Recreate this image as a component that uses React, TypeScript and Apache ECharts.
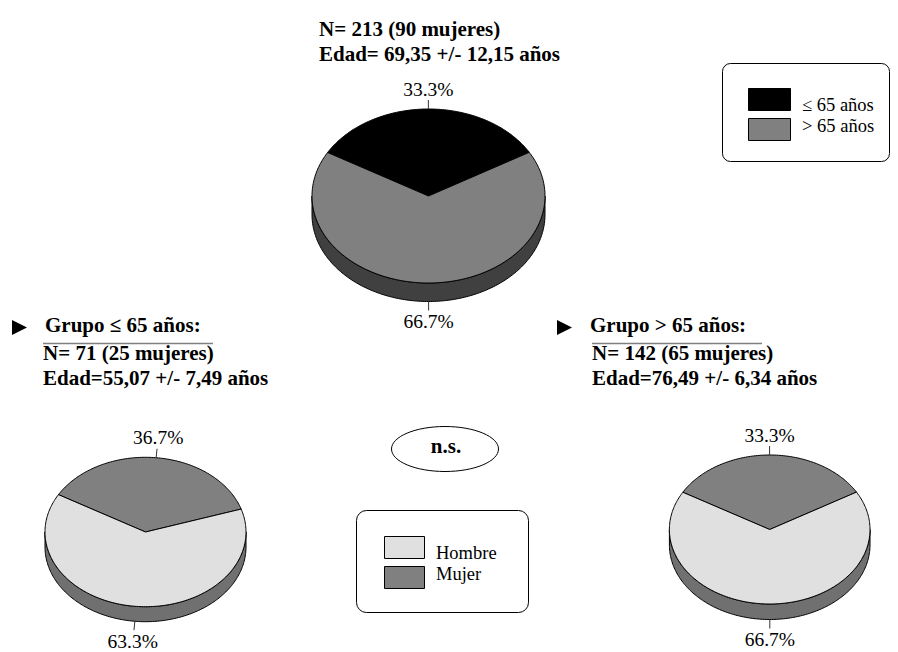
import React, { useEffect, useRef } from 'react';
import * as echarts from 'echarts';

// ---- data ----
const overallCategories = ['≤ 65 años', '> 65 años'];
const overallPct = [33.3, 66.7];
const sexCategories = ['Mujer', 'Hombre'];
const le65Pct = [36.7, 63.3];
const gt65Pct = [33.3, 66.7];
const sexLegendOrder = [1, 0];

const titleLines = ['N= 213 (90 mujeres)', 'Edad= 69,35 +/- 12,15 años'];
const leftHead = 'Grupo ≤ 65 años:';
const leftLines = ['N= 71 (25 mujeres)', 'Edad=55,07 +/- 7,49 años'];
const rightHead = 'Grupo > 65 años:';
const rightLines = ['N= 142 (65 mujeres)', 'Edad=76,49 +/- 6,34 años'];
const sigText = 'n.s.';

// ---- styles ----
const overallColors = ['#000000', '#808080'];
const overallSides = ['#000000', '#404040'];
const sexColors = ['#808080', '#e0e0e0'];
const sexSides = ['#404040', '#707070'];
const FONT = 'Liberation Serif, serif';

type Geo = { cx: number; cy: number; rx: number; ry: number; depth: number; start: number };

function pie3D(name: string, cats: string[], values: number[], colors: string[], sides: string[], g: Geo) {
  const total = values.reduce((a, b) => a + b, 0);
  const P = (deg: number, dy = 0) => {
    const r = (deg * Math.PI) / 180;
    return [g.cx + g.rx * Math.sin(r), g.cy - g.ry * Math.cos(r) + dy];
  };
  const arc = (lo: number, hi: number, dy = 0) => {
    const pts: number[][] = [];
    const n = Math.max(2, Math.ceil(hi - lo));
    for (let k = 0; k <= n; k++) pts.push(P(lo + ((hi - lo) * k) / n, dy));
    return pts;
  };
  return {
    type: 'custom',
    name,
    coordinateSystem: 'none',
    silent: true,
    data: values.map((v, i) => ({ value: v, name: cats[i] })),
    renderItem: (params: any, api: any) => {
      const i = params.dataIndex;
      const v = api.value(0);
      let before = 0;
      for (let k = 0; k < i; k++) before += values[k];
      const a0 = g.start + (before / total) * 360;
      const a1 = a0 + (v / total) * 360;
      const children: any[] = [];
      // side walls (front visible half)
      for (let s = -1; s <= 1; s++) {
        const lo = Math.max(a0, 90 + 360 * s);
        const hi = Math.min(a1, 270 + 360 * s);
        if (lo < hi) {
          const top = arc(lo, hi);
          const bot = arc(lo, hi, g.depth).reverse();
          children.push({
            type: 'polygon',
            z2: 5,
            shape: { points: top.concat(bot) },
            style: { fill: sides[i], stroke: '#000', lineWidth: 1 },
          });
        }
      }
      // top face
      children.push({
        type: 'polygon',
        z2: 10,
        shape: { points: [[g.cx, g.cy]].concat(arc(a0, a1)) },
        style: { fill: colors[i], stroke: '#000', lineWidth: 1, lineJoin: 'round' },
      });
      // label
      const mid = (a0 + a1) / 2;
      const m = ((mid % 360) + 360) % 360;
      const front = m > 90 && m < 270;
      const anchor = P(mid, front ? g.depth : 0);
      const r = (mid * Math.PI) / 180;
      const dx = Math.sin(r), dyv = -Math.cos(r);
      const end = [anchor[0] + dx * 9, anchor[1] + dyv * 9];
      children.push({
        type: 'line',
        z2: 12,
        shape: { x1: anchor[0], y1: anchor[1], x2: end[0], y2: end[1] },
        style: { stroke: '#333', lineWidth: 1 },
      });
      children.push({
        type: 'text',
        z2: 12,
        style: {
          text: v.toFixed(1) + '%',
          x: end[0] + dx * 11,
          y: end[1] + dyv * 11,
          align: 'center',
          verticalAlign: 'middle',
          fontSize: 19.5,
          fontFamily: FONT,
          fill: '#000',
        },
      });
      return { type: 'group', children };
    },
  };
}

function txt(text: string, x: number, baseline: number, size: number, bold: boolean, align = 'left') {
  return {
    type: 'text',
    style: {
      text,
      x,
      y: baseline - size * 0.34,
      align,
      verticalAlign: 'middle',
      fontSize: size,
      fontWeight: bold ? 'bold' : 'normal',
      fontFamily: FONT,
      fill: '#000',
    },
  };
}

function tri(x: number, y: number) {
  return {
    type: 'polygon',
    shape: { points: [[x, y - 7.5], [x + 15, y], [x, y + 7.5]] },
    style: { fill: '#000' },
  };
}

export default function App() {
  const ref = useRef<HTMLDivElement>(null);
  useEffect(() => {
    if (!ref.current) return;
    const chart = echarts.init(ref.current, undefined, { renderer: 'svg' });
    const graphic: any[] = [];
    // title
    graphic.push(txt(titleLines[0], 319, 36, 21, true));
    graphic.push(txt(titleLines[1], 319, 61, 21, true));
    // group headers
    graphic.push(tri(12, 327.5));
    graphic.push(txt(leftHead, 45, 332, 21, true));
    graphic.push({ type: 'line', shape: { x1: 43, y1: 343.5, x2: 213, y2: 343.5 }, style: { stroke: '#808080', lineWidth: 1.5 } });
    graphic.push(txt(leftLines[0], 43, 360, 21, true));
    graphic.push(txt(leftLines[1], 43, 385, 21, true));
    graphic.push(tri(557, 327.5));
    graphic.push(txt(rightHead, 590, 332, 21, true));
    graphic.push({ type: 'line', shape: { x1: 592, y1: 343.5, x2: 762, y2: 343.5 }, style: { stroke: '#808080', lineWidth: 1.5 } });
    graphic.push(txt(rightLines[0], 592, 360, 21, true));
    graphic.push(txt(rightLines[1], 592, 385, 21, true));
    // n.s.
    graphic.push({ type: 'ellipse', shape: { cx: 445, cy: 449, rx: 53.5, ry: 22.5 }, style: { fill: '#fff', stroke: '#000', lineWidth: 1 } });
    graphic.push(txt(sigText, 446, 453, 21, true, 'center'));
    // legend top-right
    graphic.push({ type: 'rect', shape: { x: 722.5, y: 63.5, width: 167, height: 98, r: 8 }, style: { fill: '#fff', stroke: '#000', lineWidth: 1 } });
    overallCategories.forEach((c, i) => {
      graphic.push({ type: 'rect', shape: { x: 748.5, y: 88.5 + i * 30, width: 42, height: 22 }, style: { fill: overallColors[i], stroke: '#000', lineWidth: 1 } });
      graphic.push(txt(c, 802, 111 + i * 21, 18.5, false));
    });
    // legend bottom
    graphic.push({ type: 'rect', shape: { x: 356.5, y: 510.5, width: 172, height: 102, r: 10 }, style: { fill: '#fff', stroke: '#000', lineWidth: 1 } });
    sexLegendOrder.forEach((idx, j) => {
      graphic.push({ type: 'rect', shape: { x: 384.5, y: 536.5 + j * 30, width: 40, height: 22 }, style: { fill: sexColors[idx], stroke: '#000', lineWidth: 1 } });
      graphic.push(txt(sexCategories[idx], 436, 559 + j * 21, 18.5, false));
    });

    chart.setOption({
      animation: false,
      backgroundColor: '#ffffff',
      graphic,
      series: [
        pie3D('Total', overallCategories, overallPct, overallColors, overallSides, { cx: 428.5, cy: 196, rx: 116.5, ry: 87, depth: 18.5, start: -60 }),
        pie3D('Grupo ≤ 65', sexCategories, le65Pct, sexColors, sexSides, { cx: 145.5, cy: 532, rx: 100.5, ry: 74.7, depth: 15, start: -60 }),
        pie3D('Grupo > 65', sexCategories, gt65Pct, sexColors, sexSides, { cx: 769.7, cy: 529.5, rx: 100.3, ry: 74.5, depth: 15.5, start: -60 }),
      ],
    } as any);
    return () => chart.dispose();
  }, []);
  return <div ref={ref} style={{ position: 'fixed', left: 0, top: 0, width: 898, height: 652 }} />;
}
